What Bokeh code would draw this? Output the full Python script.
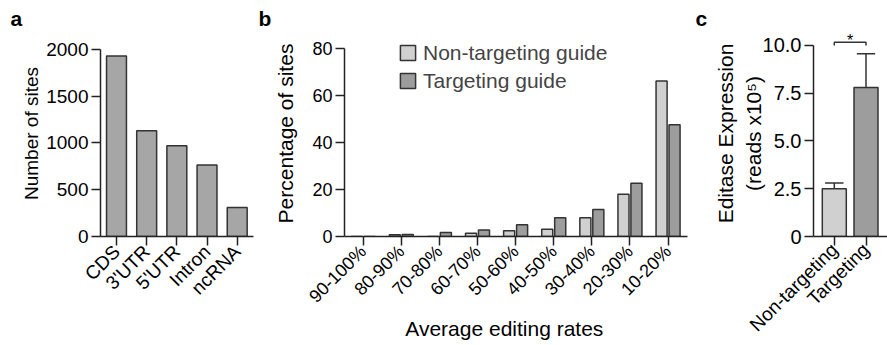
import math
from bokeh.plotting import figure
from bokeh.models import Range1d, FixedTicker, Legend, LegendItem
from bokeh.layouts import row
from bokeh.embed import file_html
from bokeh.resources import INLINE
from bokeh.core.properties import value

# ---------------- data ----------------
regions = ["CDS", "3'UTR", "5'UTR", "Intron", "ncRNA"]
sites = [1930, 1130, 970, 765, 310]
sites_ticks = [0, 500, 1000, 1500, 2000]

rates = ["90-100%", "80-90%", "70-80%", "60-70%", "50-60%",
         "40-50%", "30-40%", "20-30%", "10-20%"]
nontargeting_pct = [0, 0.7, 0, 1.4, 2.5, 3.1, 8.0, 18.0, 66.2]
targeting_pct = [0, 0.8, 1.7, 2.8, 5.0, 8.0, 11.5, 22.7, 47.6]
pct_ticks = [0, 20, 40, 60, 80]
series_names = ["Non-targeting guide", "Targeting guide"]

guides = ["Non-targeting", "Targeting"]
expression = [2.5, 7.8]
expression_err = [0.3, 1.76]
expr_ticks = [0, 2.5, 5.0, 7.5, 10.0]
expr_tick_labels = ["0", "2.5", "5.0", "7.5", "10.0"]
significance = ["*"]

# ---------------- style ----------------
FONT = "Liberation Sans"
EDGE = "#333333"
AXIS = "#222222"
MID = "#a6a6a6"
LIGHT = "#d0d0d0"
DARK = "#9d9d9d"
H = 345
TOP = 30
BOTTOM = 108


def style(p, tick_size, label_size):
    p.grid.visible = False
    p.outline_line_color = None
    p.background_fill_color = None
    p.border_fill_color = None
    for ax in p.axis:
        ax.axis_line_color = AXIS
        ax.axis_line_width = 1.5
        ax.major_tick_line_color = AXIS
        ax.major_tick_line_width = 1.5
        ax.major_tick_in = 0
        ax.major_tick_out = 9
        ax.minor_tick_line_color = None
        ax.major_label_text_font = FONT
        ax.major_label_text_font_size = f"{tick_size}px"
        ax.major_label_text_color = "black"
        ax.axis_label_text_font = FONT
        ax.axis_label_text_font_size = f"{label_size}px"
        ax.axis_label_text_font_style = "normal"
        ax.axis_label_text_color = "black"


def letter(p, text, offset):
    p.title.text = text
    p.title.align = "left"
    p.title.offset = offset
    p.title.standoff = 2
    p.title.text_font = FONT
    p.title.text_font_style = "bold"
    p.title.text_font_size = "21px"
    p.title.text_color = "black"


# ---------------- panel a ----------------
pa = figure(width=255, height=H, x_range=Range1d(-0.53, 4.54), y_range=Range1d(0, 2202),
            output_backend="svg", toolbar_location=None,
            min_border_left=100, min_border_right=2, min_border_top=TOP, min_border_bottom=BOTTOM)
pa.vbar(x=list(range(len(regions))), top=sites, width=0.66,
        fill_color=MID, line_color=EDGE, line_width=1.5)
style(pa, 19, 19)
pa.xaxis.ticker = FixedTicker(ticks=list(range(len(regions))))
pa.xaxis.major_label_overrides = {i: r for i, r in enumerate(regions)}
pa.xaxis.major_label_orientation = math.pi / 4
pa.xaxis.major_label_standoff = 3
pa.yaxis.ticker = FixedTicker(ticks=sites_ticks)
pa.yaxis.bounds = (0, 2000)
pa.yaxis.axis_label = "Number of sites"
pa.yaxis.major_label_standoff = 3
pa.yaxis.axis_label_standoff = 1
letter(pa, "a", -90)

# ---------------- panel b ----------------
pb = figure(width=433, height=H, x_range=Range1d(-0.49, 8.51), y_range=Range1d(0, 87.76),
            output_backend="svg", toolbar_location=None,
            min_border_left=89, min_border_right=1, min_border_top=TOP, min_border_bottom=BOTTOM)
idx = list(range(len(rates)))
r1 = pb.vbar(x=[i - 0.17 for i in idx], top=nontargeting_pct, width=0.29,
             fill_color=LIGHT, line_color=EDGE, line_width=1.5)
r2 = pb.vbar(x=[i + 0.17 for i in idx], top=targeting_pct, width=0.29,
             fill_color=DARK, line_color=EDGE, line_width=1.5)
style(pb, 18, 21)
pb.xaxis.ticker = FixedTicker(ticks=idx)
pb.xaxis.major_label_overrides = {i: r for i, r in enumerate(rates)}
pb.xaxis.major_label_orientation = math.pi / 4
pb.xaxis.major_label_standoff = 3
# trailing no-break spaces shift the centred title a little to the left, as in the reference
pb.xaxis.axis_label = "Average editing rates" + "\u00a0" * 4
pb.xaxis.axis_label_standoff = 0
pb.yaxis.ticker = FixedTicker(ticks=pct_ticks)
pb.yaxis.bounds = (0, 80)
pb.yaxis.axis_label = "Percentage of sites"
pb.yaxis.major_label_standoff = 3
pb.yaxis.axis_label_standoff = 12
legend = Legend(items=[LegendItem(label=series_names[0], renderers=[r1]),
                       LegendItem(label=series_names[1], renderers=[r2])],
                location=(54, 143), glyph_width=19, glyph_height=19,
                label_height=25, spacing=3, padding=0, margin=0,
                label_standoff=6, border_line_color=None, background_fill_alpha=0,
                label_text_font=FONT, label_text_font_size="21px")
pb.add_layout(legend)
letter(pb, "b", -86)

# ---------------- panel c ----------------
pc = figure(width=199, height=H, x_range=Range1d(-0.656, 1.678), y_range=Range1d(0, 10.78),
            output_backend="svg", toolbar_location=None,
            min_border_left=125, min_border_right=0, min_border_top=TOP, min_border_bottom=BOTTOM)
gx = list(range(len(guides)))
pc.vbar(x=gx, top=expression, width=0.757, fill_color=[LIGHT, DARK],
        line_color=EDGE, line_width=1.5)
err_top = [e + s for e, s in zip(expression, expression_err)]
pc.segment(x0=gx, y0=expression, x1=gx, y1=err_top, line_color=EDGE, line_width=1.5)
pc.segment(x0=[x - 0.29 for x in gx], y0=err_top, x1=[x + 0.29 for x in gx], y1=err_top,
           line_color=EDGE, line_width=1.5)
bracket_y = expr_ticks[-1] + 0.17
pc.line(x=[gx[0], gx[0], gx[1], gx[1]], y=[expr_ticks[-1], bracket_y, bracket_y, expr_ticks[-1]],
        line_color=EDGE, line_width=1.5)
pc.text(x=[(gx[0] + gx[1]) / 2], y=[expr_ticks[-1] + 0.26], text=significance,
        text_font=value(FONT), text_font_size="16px", text_align="center",
        text_baseline="alphabetic", text_color="black")
style(pc, 20, 21)
pc.xaxis.ticker = FixedTicker(ticks=gx)
pc.xaxis.major_label_overrides = {i: g for i, g in enumerate(guides)}
pc.xaxis.major_label_orientation = math.pi / 4
pc.xaxis.major_label_standoff = 1
pc.xaxis.major_label_text_font_size = "19px"
pc.yaxis.ticker = FixedTicker(ticks=expr_ticks)
pc.yaxis.major_label_overrides = {t: l for t, l in zip(expr_ticks, expr_tick_labels)}
pc.yaxis.bounds = (0, 10)
pc.yaxis.axis_label = "Editase Expression\n(reads x10\u2075)"
pc.yaxis.major_label_standoff = 3
pc.yaxis.axis_label_standoff = -5
letter(pc, "c", -118)

layout = row(pa, pb, pc)
open("out.html", "w").write(file_html(layout, INLINE))
